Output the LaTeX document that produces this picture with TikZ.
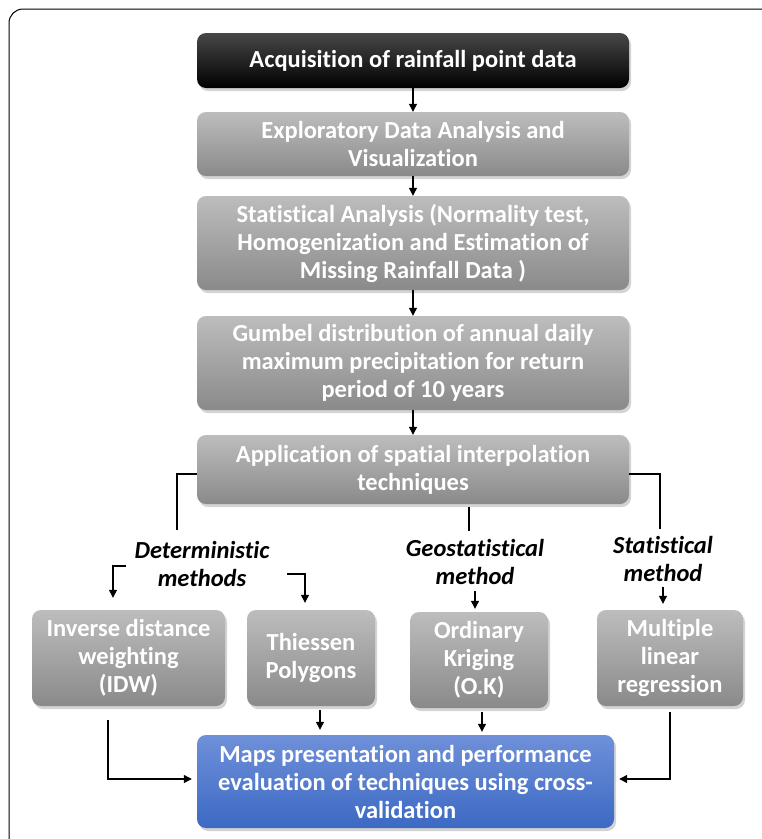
\documentclass[tikz,border=0pt]{standalone}
\usepackage{fontspec}
\setmainfont{Carlito}[Ligatures={NoCommon}]
\usetikzlibrary{arrows.meta, shadows}
\definecolor{mapstop}{HTML}{6F90D9}
\definecolor{mapsbot}{HTML}{3C69C3}

\begin{document}
\begin{tikzpicture}[x=1pt, y=-1pt,
    box/.style={rounded corners=9pt, align=center, text=white, inner sep=2pt,
        font=\bfseries\fontsize{24.5}{28}\selectfont,
        drop shadow={opacity=0.35, shadow xshift=2pt, shadow yshift=-3pt}},
    darkbox/.style={box, top color=black!72, bottom color=black},
    graybox/.style={box, top color=black!26, bottom color=black!46},
    bluebox/.style={box, top color=mapstop, bottom color=mapsbot},
    method/.style={align=center, font=\bfseries\itshape\fontsize{24.5}{28}\selectfont},
    conn/.style={line width=1.2pt},
    arr/.style={conn, -{Triangle[length=8pt, width=8pt]}}]

    \useasboundingbox (0,0) rectangle (762,839);
    \clip (0,0) rectangle (762,839);
    \draw[line width=1pt, rounded corners=14pt] (9,9) rectangle (830,900);

    % main chain
    \node[darkbox, minimum width=432pt, minimum height=55pt] (acq) at (413,60.5) {Acquisition of rainfall point data};
    \node[graybox, minimum width=432pt, minimum height=64pt] (eda) at (413,144) {Exploratory Data Analysis and\\Visualization};
    \node[graybox, minimum width=432pt, minimum height=94pt] (stat) at (413,243) {Statistical Analysis (Normality test,\\Homogenization and Estimation of\\Missing Rainfall Data )};
    \node[graybox, minimum width=432pt, minimum height=94pt] (gum) at (413,363) {Gumbel distribution of annual daily\\maximum precipitation for return\\period of 10 years};
    \node[graybox, minimum width=432pt, minimum height=69pt] (app) at (413,469.5) {Application of spatial interpolation\\techniques};

    \draw[arr] (acq) -- (eda);
    \draw[arr] (eda) -- (stat);
    \draw[arr] (stat) -- (gum);
    \draw[arr] (gum) -- (app);

    % method groups
    \node[method] (det) at (202,564) {Deterministic\\methods};
    \node[method] (geo) at (475,561.5) {Geostatistical\\method};
    \node[method] (sta) at (663,558.5) {Statistical\\method};

    \coordinate (cL) at (177,530);
    \coordinate (cM) at (469,531);
    \coordinate (cR) at (660,529);
    \draw[conn] ([yshift=-4.5pt]app.west) -| (cL);
    \draw[conn] ([yshift=-3pt]cM |- app.south) -- (cM);
    \draw[conn] ([yshift=-4.5pt]app.east) -| (cR);

    % techniques
    \node[graybox, minimum width=193pt, minimum height=96pt] (idw) at (128.5,658) {Inverse distance\\weighting\\(IDW)};
    \node[graybox, minimum width=128pt, minimum height=96pt] (thi) at (311,658) {Thiessen\\Polygons};
    \node[graybox, minimum width=138pt, minimum height=96pt] (ok) at (479,660) {Ordinary\\Kriging\\(O.K)};
    \node[graybox, minimum width=146pt, minimum height=96pt] (mlr) at (670,658) {Multiple\\linear\\regression};

    \coordinate (dl) at (126,566);
    \coordinate (dr) at (287,574);
    \draw[arr] (dl) -| ([xshift=-15.5pt, yshift=12pt]idw.north);
    \draw[arr] (dr) -| ([xshift=-6pt, yshift=7pt]thi.north);
    \draw[arr] ([yshift=-3pt]geo.south) -- ([yshift=3pt]geo.south |- ok.north);
    \draw[arr] ([yshift=-2pt]sta.south) -- ([yshift=6pt]sta.south |- mlr.north);

    % result
    \node[bluebox, minimum width=417pt, minimum height=93pt] (maps) at (405.5,781.5) {Maps presentation and performance\\evaluation of techniques using cross-\\validation};

    \draw[arr] ([xshift=-20.5pt, yshift=-14pt]idw.south) |- ([xshift=-5pt, yshift=2.5pt]maps.west);
    \draw[arr] ([xshift=9pt, yshift=-4pt]thi.south) -- ([xshift=9pt, yshift=5pt]thi.south |- maps.north);
    \draw[arr] ([xshift=3pt, yshift=-4pt]ok.south) -- ([xshift=3pt, yshift=3pt]ok.south |- maps.north);
    \draw[arr] ([yshift=-6pt]mlr.south) |- ([xshift=5pt, yshift=2.5pt]maps.east);
\end{tikzpicture}
\end{document}
